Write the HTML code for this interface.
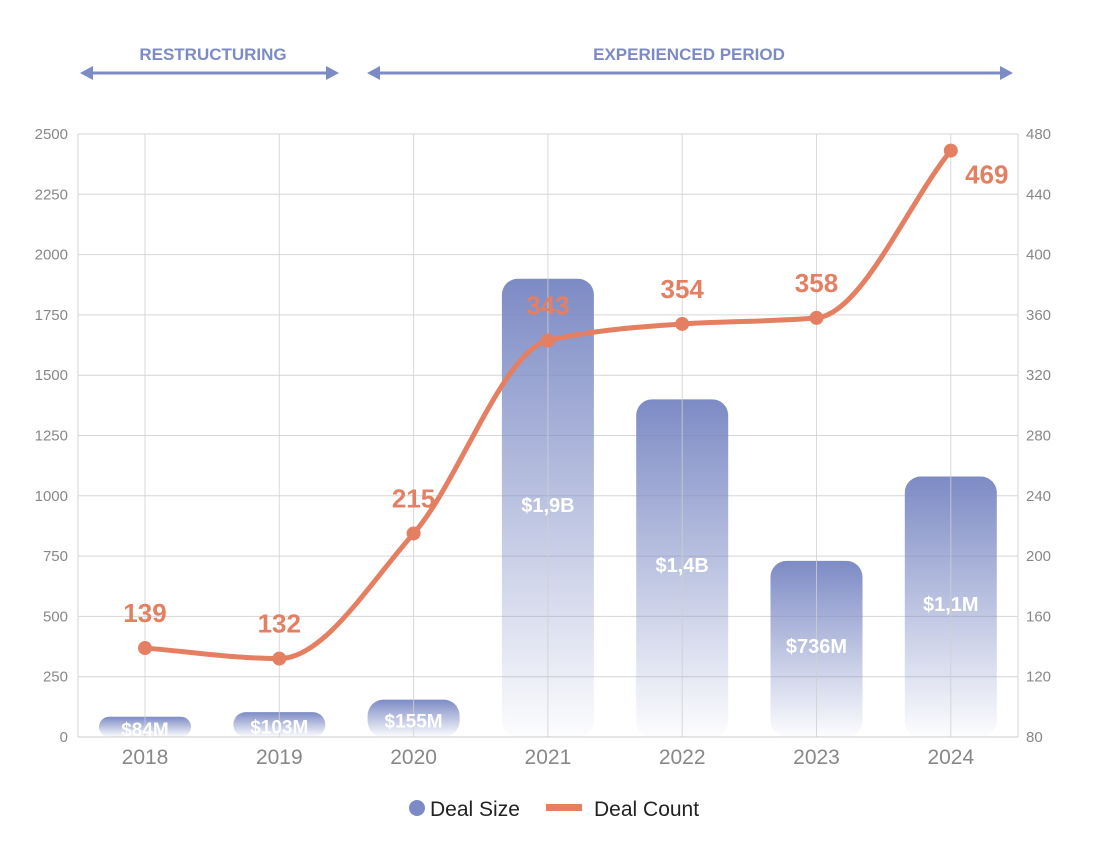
<!DOCTYPE html>
<html><head><meta charset="utf-8"><style>
body{margin:0;background:#fff;}
svg{display:block;font-family:"Liberation Sans",sans-serif;}
</style></head><body>
<svg id="chart" width="1118" height="862" viewBox="0 0 1118 862" xmlns="http://www.w3.org/2000/svg">
<defs>
<linearGradient id="barGrad" x1="0" y1="0" x2="0" y2="1">
<stop offset="0" stop-color="#7d8bc5" stop-opacity="1"/>
<stop offset="1" stop-color="#7d8bc5" stop-opacity="0.02"/>
</linearGradient>
</defs>
<g id="grid"></g>
<g id="bars"></g>
<g id="axes"></g>
<g id="line"></g>
<g fill="#7d8bc5">
<text x="213" y="60" text-anchor="middle" font-size="17" font-weight="bold">RESTRUCTURING</text>
<line x1="90" y1="73" x2="330" y2="73" stroke="#7d8bc5" stroke-width="3"/>
<polygon points="80,73 93,66 93,80"/><polygon points="339,73 326,66 326,80"/>
<text x="689" y="60" text-anchor="middle" font-size="17" font-weight="bold">EXPERIENCED PERIOD</text>
<line x1="375" y1="73" x2="1004" y2="73" stroke="#7d8bc5" stroke-width="3"/>
<polygon points="367,73 380,66 380,80"/><polygon points="1013,73 1000,66 1000,80"/>
</g>
<g>
<circle cx="417" cy="808" r="8" fill="#7d8bc5"/>
<text x="430" y="816" font-size="21" fill="#222">Deal Size</text>
<rect x="546" y="804" width="36" height="7" fill="#e57f62"/>
<text x="594" y="816" font-size="21" fill="#222">Deal Count</text>
</g>
</svg>
<script>
const categories=["2018","2019","2020","2021","2022","2023","2024"];
const dealSize=[84,103,155,1900,1400,730,1080];
const dealSizeLabels=["$84M","$103M","$155M","$1,9B","$1,4B","$736M","$1,1M"];
const dealCount=[139,132,215,343,354,358,469];
const leftTicks=[0,250,500,750,1000,1250,1500,1750,2000,2250,2500];
const rightTicks=[80,120,160,200,240,280,320,360,400,440,480];
const NS="http://www.w3.org/2000/svg";
const X0=145,DX=134.3,YT=134,YB=737,PL=78,PR=1018;
const x=i=>X0+i*DX;
const yL=v=>YB-(v/2500)*(YB-YT);
const yR=v=>YB-((v-80)/400)*(YB-YT);
function mk(tag,attrs,parent,txt){const e=document.createElementNS(NS,tag);for(const k in attrs)e.setAttribute(k,attrs[k]);if(txt!=null)e.textContent=txt;parent.appendChild(e);return e;}
const grid=document.getElementById('grid'),bars=document.getElementById('bars'),axes=document.getElementById('axes'),line=document.getElementById('line');
leftTicks.forEach((t,i)=>{
 const g=mk('line',{x1:PL,x2:PR,y1:yL(t),y2:yL(t),stroke:'#d6d6d6','stroke-width':1},grid);
 
 
 const l=mk('text',{x:68,y:yL(t)+5,'text-anchor':'end','font-size':15,fill:'#888'},axes,t);
 
 
 const r=mk('text',{x:1026,y:yR(rightTicks[i])+5,'font-size':15,fill:'#888'},axes,rightTicks[i]);
 
 
});
mk('line',{x1:PL,x2:PL,y1:YT,y2:YB,stroke:'#d6d6d6'},grid);
mk('line',{x1:PR,x2:PR,y1:YT,y2:YB,stroke:'#d6d6d6'},grid);
categories.forEach((c,i)=>{
 const bw=92,top=yL(dealSize[i]),h=YB-top;
 const b=mk('rect',{x:x(i)-bw/2,y:top,width:bw,height:h,rx:Math.min(16,h/2),fill:'url(#barGrad)'},bars);
 
 
 const v=mk('line',{x1:x(i),x2:x(i),y1:YT,y2:YB,stroke:'#d0d0d0','stroke-width':1,'stroke-opacity':0.8},bars);
 
 
 const big=dealSize[i]>500;
 const ly=big?top+h*0.5+4:top+h/2+9;
 const bl=mk('text',{x:x(i),y:ly,'text-anchor':'middle','font-size':big?20:19,fill:'#fff','font-weight':'bold'},bars,dealSizeLabels[i]);
 
 
 const xl=mk('text',{x:x(i),y:764,'text-anchor':'middle','font-size':21,fill:'#888'},axes,c);
 
 
});
mk('line',{x1:PL,x2:PR,y1:YB,y2:YB,stroke:'#ccc'},axes);
const px=categories.map((c,i)=>x(i)),py=dealCount.map(yR),n=px.length;
const d=[],m=[];for(let i=0;i<n-1;i++)d.push((py[i+1]-py[i])/(px[i+1]-px[i]));
m[0]=d[0];m[n-1]=d[n-2];
for(let i=1;i<n-1;i++){const a=d[i-1],b=d[i]; m[i]=(a*b<=0)?0:2/(1/a+1/b);}
let path=`M${px[0]},${py[0]}`;
for(let i=0;i<n-1;i++){const h=(px[i+1]-px[i])/3;path+=` C${px[i]+h},${py[i]+m[i]*h} ${px[i+1]-h},${py[i+1]-m[i+1]*h} ${px[i+1]},${py[i+1]}`;}
const p=mk('path',{d:path,fill:'none',stroke:'#e57f62','stroke-width':5,'stroke-linecap':'round'},line);


dealCount.forEach((v,i)=>{
 const c=mk('circle',{cx:px[i],cy:py[i],r:7,fill:'#e57f62'},line);
 
 
 const last=i===n-1;
 const t=mk('text',{x:last?px[i]+36:px[i],y:last?py[i]+33:py[i]-26,'text-anchor':'middle','font-size':26,'font-weight':'bold',fill:'#e57f62'},line,v);
 
 
});
</script>
</body></html>
